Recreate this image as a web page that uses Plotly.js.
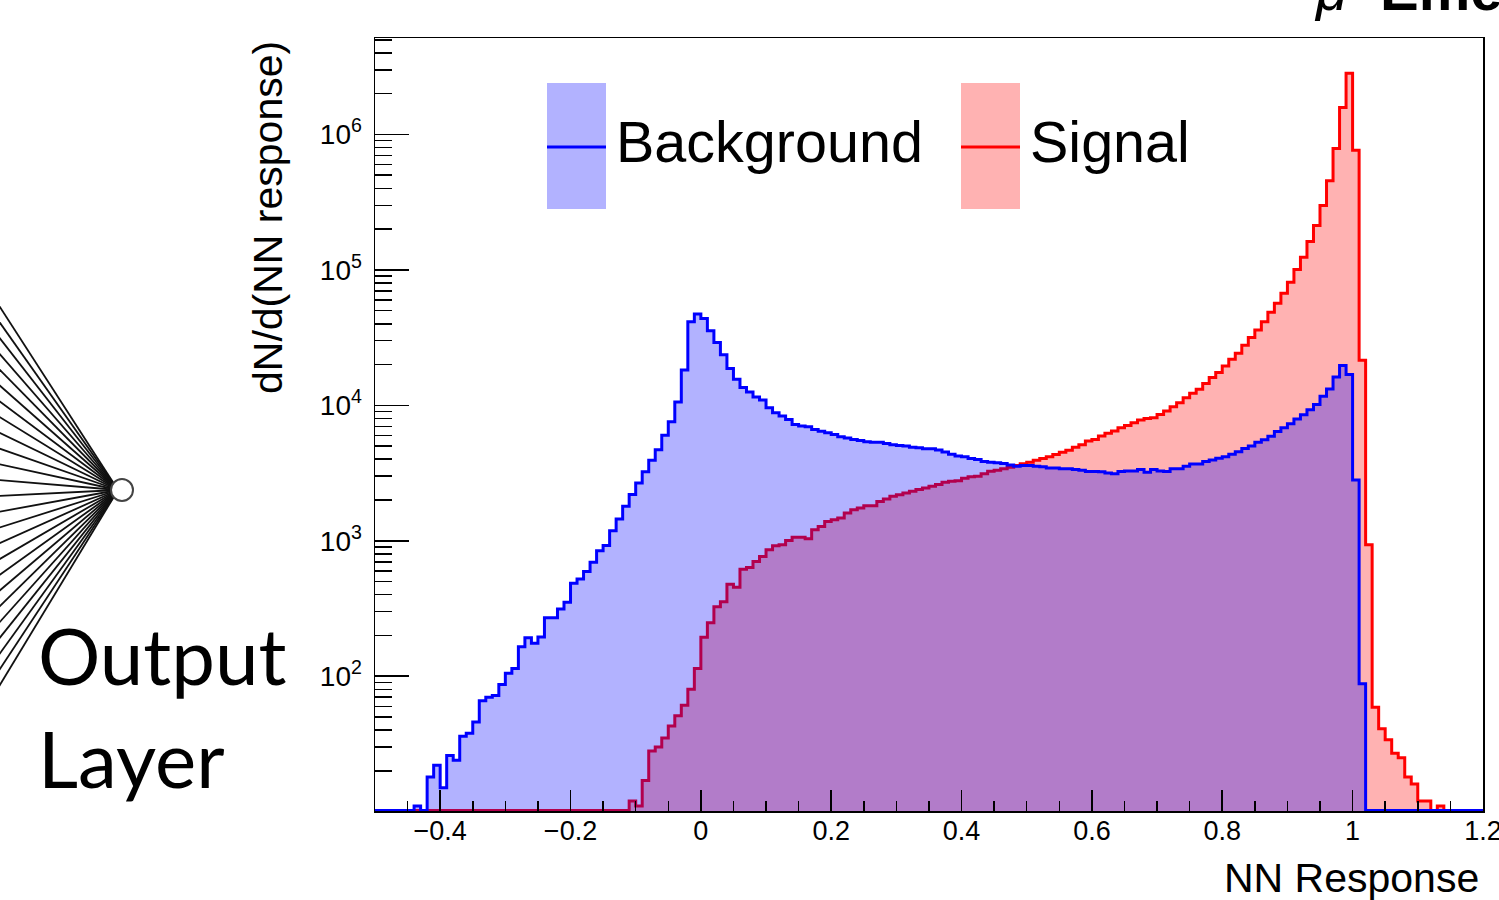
<!DOCTYPE html>
<html><head><meta charset="utf-8">
<script src="https://cdn.plot.ly/plotly-3.0.1.min.js"></script>
<style>html,body{margin:0;padding:0;background:#fff}#chart{width:1499px;height:900px}</style>
</head><body><div id="chart"></div>
<script>
// ---- data ----
const binLow = -0.5;
const binWidth = 0.01;
const background = [
 0,0,0,0,0,0,11,0,18,22,
 15,26,24,36,38,46,66,70,72,87,
 105,114,165,192,175,195,270,270,313,352,
 486,523,593,695,843,923,1185,1448,1796,2192,
 2675,3228,3937,4699,6026,7575,10600,18240,41400,47200,
 43850,35500,29100,23600,18700,15600,13530,12560,11540,10950,
 9610,8830,8340,7870,7230,7030,6950,6640,6450,6280,
 6100,5860,5730,5600,5510,5380,5350,5350,5230,5120,
 5060,5000,4900,4860,4790,4790,4680,4520,4345,4220,
 4170,4055,3980,3850,3800,3760,3715,3630,3556,3600,
 3600,3556,3515,3450,3450,3400,3400,3357,3320,3245,
 3245,3230,3170,3120,3245,3280,3280,3357,3205,3357,
 3280,3245,3400,3400,3550,3690,3690,3850,3945,4075,
 4180,4355,4540,4800,5000,5345,5570,5900,6410,6840,
 7310,7925,8530,9270,10140,11670,13180,16220,19720,16870,
 2810,88,0,0,0,0,0,0,0,0,
 0,0,0,0,0,0,0,0,0,0
];
const signal = [
 0,0,0,0,0,0,0,0,0,0,
 0,0,0,0,0,0,0,0,0,0,
 0,0,0,0,0,0,0,0,0,0,
 0,0,0,0,0,0,0,0,0,12,
 11,17,28,30,35,43,51,61,80,114,
 194,248,326,355,478,454,617,634,703,766,
 857,918,933,1005,1064,1064,1035,1205,1276,1390,
 1432,1472,1603,1698,1746,1816,1816,1954,2037,2128,
 2190,2254,2317,2388,2455,2529,2600,2704,2754,2780,
 2897,2965,3000,3119,3266,3319,3396,3491,3597,3698,
 3802,3936,4046,4169,4335,4508,4667,4909,5117,5445,
 5598,5929,6209,6457,6839,7112,7447,7780,8000,8110,
 8570,9078,9772,10470,11400,12270,13150,14490,16030,17460,
 19540,21930,24270,27800,31700,35970,41400,48640,56620,67140,
 81100,100460,124200,162200,212800,299200,456000,787000,1578000,2831000,
 765600,21530,933,59,41,34,27,25,18,16,
 12,12,0,11,0,0,0,0,0,0
];
const xTickVals = [-0.4, -0.2, 0, 0.2, 0.4, 0.6, 0.8, 1, 1.2];
const xTickText = ['\u22120.4', '\u22120.2', '0', '0.2', '0.4', '0.6', '0.8', '1', '1.2'];
const yTickVals = [1e2, 1e3, 1e4, 1e5, 1e6];
const yTickText = ['10<sup>2</sup>','10<sup>3</sup>','10<sup>4</sup>','10<sup>5</sup>','10<sup>6</sup>'];
const seriesNames = ['Background', 'Signal'];

// ---- geometry ----
const W = 1499, H = 900;
const M = {l: 375, r: 16, t: 38, b: 89};
const PW = W - M.l - M.r, PH = H - M.t - M.b;
const px = p => (p - M.l) / PW;
const py = p => (M.t + PH - p) / PH;
const yLogRange = [1.005, 6.712];
const yFloor = Math.pow(10, yLogRange[0] + 0.004);

function edges(n) { const e = []; for (let i = 0; i <= n; i++) e.push(+(binLow + i * binWidth).toFixed(4)); return e; }
function stepY(v) { const y = v.map(c => c > 0 ? c : yFloor); y.push(y[y.length - 1]); return y; }

const xs = edges(background.length);
const traces = [
  {x: xs, y: stepY(signal), type: 'scatter', mode: 'lines', name: seriesNames[1],
   line: {shape: 'hv', color: '#ff0000', width: 3}, fill: 'tozeroy', fillcolor: 'rgba(255,0,0,0.3)', hoverinfo: 'skip'},
  {x: xs, y: stepY(background), type: 'scatter', mode: 'lines', name: seriesNames[0],
   line: {shape: 'hv', color: '#0000ff', width: 3}, fill: 'tozeroy', fillcolor: 'rgba(0,0,255,0.3)', hoverinfo: 'skip'}
];

const FONT = 'Liberation Sans, Arial, Helvetica, sans-serif';
const shapes = [];
const annotations = [];

// legend (drawn as in the ROOT figure)
function legendEntry(x0, color, fill, label) {
  shapes.push({type: 'rect', xref: 'paper', yref: 'paper', x0: px(x0), x1: px(x0 + 59), y0: py(209), y1: py(83),
               fillcolor: fill, line: {width: 0}, layer: 'above'});
  shapes.push({type: 'line', xref: 'paper', yref: 'paper', x0: px(x0), x1: px(x0 + 59), y0: py(147), y1: py(147),
               line: {color: color, width: 3}, layer: 'above'});
  annotations.push({xref: 'paper', yref: 'paper', x: px(x0 + 67), y: py(142), xanchor: 'left', yanchor: 'middle',
                    text: label, showarrow: false, font: {family: FONT, size: 57.5, color: '#000'}});
}
legendEntry(547, '#0000ff', 'rgba(0,0,255,0.3)', seriesNames[0]);
legendEntry(961, '#ff0000', 'rgba(255,0,0,0.3)', seriesNames[1]);

// axis titles
annotations.push({xref: 'paper', yref: 'paper', x: px(1481), y: py(878), xanchor: 'right', yanchor: 'middle',
                  text: 'NN Response', showarrow: false, font: {family: FONT, size: 41, color: '#000'}});
annotations.push({xref: 'paper', yref: 'paper', x: px(268), y: py(218), xanchor: 'center', yanchor: 'middle',
                  textangle: -90, text: 'dN/d(NN response)', showarrow: false, font: {family: FONT, size: 41, color: '#000'}});

// neural-net output node decoration on the left
const fanStarts = [304,320,336,352,368,384,400,416,432,448,464,480,496,512,528,544,560,576,592,608,624,640,656,672,688];
fanStarts.forEach(y0 => shapes.push({type: 'line', xref: 'paper', yref: 'paper', x0: px(-2), y0: py(y0), x1: px(118), y1: py(490),
                                     line: {color: '#111', width: 1.8}, layer: 'above'}));
shapes.push({type: 'circle', xref: 'paper', yref: 'paper', x0: px(111), x1: px(133), y0: py(501), y1: py(479),
             fillcolor: '#ffffff', line: {color: '#444', width: 2}, layer: 'above'});
annotations.push({xref: 'paper', yref: 'paper', x: px(36), y: py(655), xanchor: 'left', yanchor: 'middle',
                  text: 'Output', showarrow: false, font: {family: 'Lato, sans-serif', size: 78, color: '#000'}});
annotations.push({xref: 'paper', yref: 'paper', x: px(36), y: py(758), xanchor: 'left', yanchor: 'middle',
                  text: 'Layer', showarrow: false, font: {family: 'Lato, sans-serif', size: 78, color: '#000'}});
// cut-off heading at the top right
annotations.push({xref: 'paper', yref: 'paper', x: px(1312), y: py(24), xanchor: 'left', yanchor: 'bottom',
                  text: '<i>μ</i>  <b>Eme</b>', showarrow: false, font: {family: FONT, size: 58, color: '#000'}});

const layout = {
  width: W, height: H, margin: M, paper_bgcolor: '#fff', plot_bgcolor: '#fff', showlegend: false,
  xaxis: {range: [-0.5, 1.2001], tickvals: xTickVals, ticktext: xTickText, ticks: 'inside', ticklen: 21, tickwidth: 1.5, tickcolor: '#000',
          showline: true, mirror: true, linecolor: '#000', linewidth: 1.5, showgrid: false, zeroline: false,
          tickfont: {family: FONT, size: 27, color: '#000'}, ticklabelstandoff: -5, ticklabeloverflow: 'allow',
          minor: {tick0: 0, dtick: 0.05, ticks: 'inside', ticklen: 10, tickwidth: 1.5, tickcolor: '#000', showgrid: false}},
  yaxis: {type: 'log', range: yLogRange, tickvals: yTickVals, ticktext: yTickText, ticks: 'inside', ticklen: 34,
          tickwidth: 1.5, tickcolor: '#000', showline: true, mirror: true, linecolor: '#000', linewidth: 1.5,
          showgrid: false, zeroline: false, tickfont: {family: FONT, size: 28, color: '#000'}, ticklabelstandoff: 6,
          minor: {dtick: 'D1', ticks: 'inside', ticklen: 17, tickwidth: 1.5, tickcolor: '#000', showgrid: false}},
  shapes: shapes, annotations: annotations
};
Plotly.newPlot('chart', traces, layout, {displayModeBar: false, staticPlot: true});
</script></body></html>
